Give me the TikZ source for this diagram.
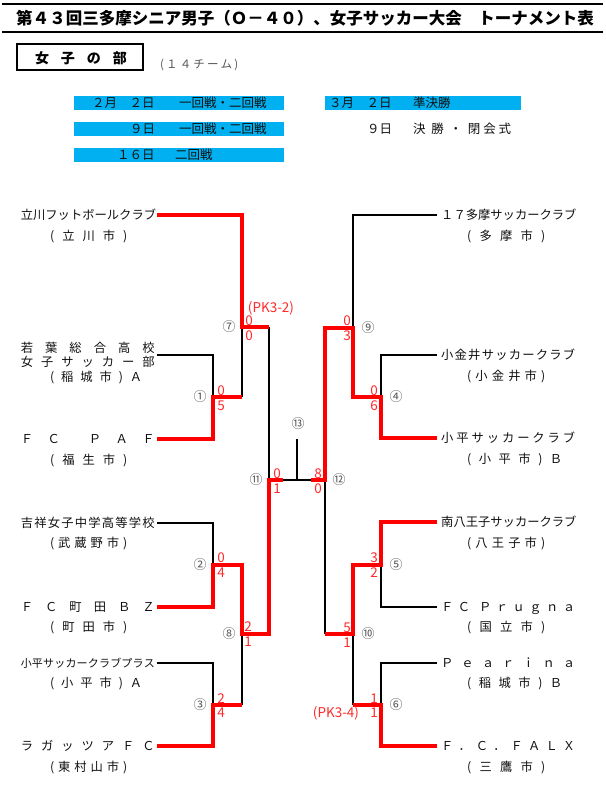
\documentclass[tikz,border=0pt]{standalone}
\usepackage{fontspec}
\setmainfont{Noto Sans CJK JP}
\definecolor{barblue}{HTML}{00B0F0}
\definecolor{scred}{HTML}{FF2A2A}
\definecolor{numgray}{HTML}{555555}
\definecolor{ink}{HTML}{111111}
\def\sprx#1#2{#1\ifx\relax#2\else\hfill\expandafter\sprx\expandafter#2\fi}
\newcommand\spr[2]{\makebox[#1][s]{\sprx#2\relax}}
\newcommand\gap{\hbox{}}
\begin{document}
\begin{tikzpicture}[x=1pt,y=-1pt,
  win/.style={draw=red,line width=3.8pt},
  lose/.style={draw=black,line width=1.6pt},
  tl/.style={inner sep=0pt,anchor=east,text=ink,font=\fontsize{12.3}{12.3}\selectfont,text height=9.3pt,text depth=0pt},
  tr/.style={tl,anchor=west},
  cty/.style={tl,anchor=west},
  sc/.style={inner sep=0pt,text=scred,font=\fontsize{13.5}{13.5}\selectfont,text height=10.2pt,text depth=0pt},
  cn/.style={inner sep=0pt,text=numgray,font=\fontsize{13}{13}\selectfont,text height=9.9pt,text depth=0pt},
  hd/.style={inner sep=0pt,anchor=west,text=ink,font=\fontsize{12.5}{12.5}\selectfont,text height=9.5pt,text depth=0pt},
]
\useasboundingbox (0,0) rectangle (605,794);
\fill[white] (0,0) rectangle (605,794);

% ---------- header ----------
\draw[line width=2.6pt] (2,4) -- (603,4);
\draw[line width=2.6pt] (2,32) -- (603,32);
\node[inner sep=0pt,text=black,font=\bfseries\fontsize{16.5}{16.5}\selectfont,text height=12.5pt,text depth=0pt] (title) at (305,18)
  {第４３回三多摩シニア男子（Ｏ－４０）、女子サッカー大会　トーナメント表};
\draw[line width=1.2pt] (17,44) rectangle (143,70);
\node[inner sep=0pt,font=\bfseries\fontsize{14}{14}\selectfont,text height=10.6pt,text depth=0pt] (div) at (81,58)
  {\spr{92pt}{女子の部}};
\node[inner sep=0pt,anchor=west,text=numgray,font=\fontsize{11.5}{11.5}\selectfont,text height=8.7pt,text depth=0pt] (nteams) at (160,64)
  {\spr{78pt}{(１４チーム)}};

\fill[barblue] (74,96) rectangle (284,110);
\fill[barblue] (74,122) rectangle (284,136);
\fill[barblue] (74,148) rectangle (284,162);
\fill[barblue] (325,96) rectangle (521,110);
\node[hd] (d1) at (92,103) {２月　２日};
\node[hd] (r1) at (179,103) {一回戦・二回戦};
\node[hd] (d2) at (130,129) {９日};
\node[hd] (r2) at (179,129) {一回戦・二回戦};
\node[hd] (d3) at (117,155) {１６日};
\node[hd] (r3) at (175,155) {二回戦};
\node[hd] (d4) at (329,103) {３月　２日};
\node[hd] (r4) at (413,103) {準決勝};
\node[hd] (d5) at (367,129) {９日};
\node[hd] (r5) at (413,129) {\spr{98pt}{決\gap 勝\gap ・\gap 閉会式}};

% ---------- team names, left ----------
\node[tl] (t1) at (155,215) {\spr{134pt}{立川フットボールクラブ}};
\node[cty] (c1) at (50,236) {\spr{77pt}{(立川市)}};
\node[tl] (t2a) at (155,348) {\spr{134pt}{若葉総合高校}};
\node[tl] (t2b) at (155,362) {\spr{134pt}{女子サッカー部}};
\node[cty] (c2) at (50,377) {\spr{92pt}{(稲城市)Ａ}};
\node[tl] (t3) at (155,439) {\spr{134pt}{ＦＣ\gap ＰＡＦ}};
\node[cty] (c3) at (50,460) {\spr{77pt}{(福生市)}};
\node[tl] (t4) at (155,523) {\spr{134pt}{吉祥女子中学高等学校}};
\node[cty] (c4) at (50,543) {\spr{77pt}{(武蔵野市)}};
\node[tl] (t5) at (155,607) {\spr{134pt}{ＦＣ町田ＢＺ}};
\node[cty] (c5) at (50,627) {\spr{77pt}{(町田市)}};
\node[tl,font=\fontsize{11}{11}\selectfont,text height=8.4pt] (t6) at (155,663) {\spr{134pt}{小平サッカークラブプラス}};
\node[cty] (c6) at (50,683) {\spr{92pt}{(小平市)Ａ}};
\node[tl] (t7) at (155,746) {\spr{134pt}{ラガッツアＦＣ}};
\node[cty] (c7) at (50,767) {\spr{77pt}{(東村山市)}};

% ---------- team names, right ----------
\node[tr] (t8) at (441,215) {\spr{134pt}{１７多摩サッカークラブ}};
\node[cty] (c8) at (467,236) {\spr{78pt}{(多摩市)}};
\node[tr] (t9) at (441,355) {\spr{134pt}{小金井サッカークラブ}};
\node[cty] (c9) at (467,376) {\spr{78pt}{(小金井市)}};
\node[tr] (t10) at (441,438) {\spr{134pt}{小平サッカークラブ}};
\node[cty] (c10) at (467,459) {\spr{95pt}{(小平市)Ｂ}};
\node[tr] (t11) at (441,522) {\spr{134pt}{南八王子サッカークラブ}};
\node[cty] (c11) at (467,543) {\spr{78pt}{(八王子市)}};
\node[tr] (t12) at (441,607) {\spr{134pt}{ＦＣ\gap Ｐｒｕｇｎａ}};
\node[cty] (c12) at (467,627) {\spr{78pt}{(国立市)}};
\node[tr] (t13) at (441,663) {\spr{134pt}{Ｐｅａｒｉｎａ}};
\node[cty] (c13) at (467,683) {\spr{95pt}{(稲城市)Ｂ}};
\node[tr] (t14) at (441,746) {\spr{134pt}{Ｆ．Ｃ．ＦＡＬＸ}};
\node[cty] (c14) at (467,767) {\spr{78pt}{(三鷹市)}};

% ---------- bracket coordinates ----------
\coordinate (L1) at (157,215);
\coordinate (L2) at (157,355);
\coordinate (L3) at (157,439);
\coordinate (L4) at (157,523);
\coordinate (L5) at (157,607);
\coordinate (L6) at (157,663);
\coordinate (L7) at (157,746);
\coordinate (R1) at (437,215);
\coordinate (R2) at (437,355);
\coordinate (R3) at (437,438);
\coordinate (R4) at (437,522);
\coordinate (R5) at (437,607);
\coordinate (R6) at (437,663);
\coordinate (R7) at (437,746);
\coordinate (m1) at (213,397);
\coordinate (m2) at (213,565);
\coordinate (m3) at (213,705);
\coordinate (m7) at (242,327);
\coordinate (m8) at (242,634);
\coordinate (m11) at (269,480);
\coordinate (m13) at (297,480);
\coordinate (m13t) at (297,439);
\coordinate (m12) at (325,480);
\coordinate (w11) at (283,480);
\coordinate (w12) at (311,480);
\coordinate (m4) at (381,397);
\coordinate (m5) at (381,565);
\coordinate (m6) at (381,705);
\coordinate (m9) at (353,328);
\coordinate (m10) at (353,634);

% ---------- losing (black) lines ----------
\draw[lose] (L2) -| (m1);
\draw[lose] (m1 -| m7) -- (m7);
\draw[lose] (m7 -| m11) -- (m11);
\draw[lose] (m11) -- (m12);
\draw[lose] (m13t) -- (m13);
\draw[lose] (L4) -| (m2);
\draw[lose] (L6) -| (m3);
\draw[lose] (m3 -| m8) -- (m8);
\draw[lose] (R1) -| (m9);
\draw[lose] (R2) -| (m4);
\draw[lose] (R5) -| (m5);
\draw[lose] (R6) -| (m6);
\draw[lose] (m6 -| m10) -- (m10);
\draw[lose] (m10 -| m12) -- (m12);

% ---------- winning (red) lines ----------
\draw[win] (L1) -| (m7) -- (m7 -| m11);
\draw[win] (L3) -| (m1) -- (m1 -| m7);
\draw[win] (L5) -| (m2) -- (m2 -| m8) -- (m8) -- (m8 -| m11) -- (m11) -- (w11);
\draw[win] (L7) -| (m3) -- (m3 -| m8);
\draw[win] (R3) -| (m4) -- (m4 -| m9) -- (m9) -- (m9 -| m12) -- (m12) -- (w12);
\draw[win] (R4) -| (m5) -- (m5 -| m10) -- (m10) -- (m10 -| m12);
\draw[win] (R7) -| (m6) -- (m6 -| m10);

% ---------- match numbers ----------
\node[cn] (n1) at (200,397) {①};
\node[cn] (n2) at (200,565) {②};
\node[cn] (n3) at (200,705) {③};
\node[cn] (n7) at (229,327) {⑦};
\node[cn] (n8) at (229,634) {⑧};
\node[cn] (n11) at (256,480) {⑪};
\node[cn] (n13) at (298,424) {⑬};
\node[cn] (n12) at (339,480) {⑫};
\node[cn] (n9) at (368,328) {⑨};
\node[cn] (n10) at (368,634) {⑩};
\node[cn] (n4) at (396,397) {④};
\node[cn] (n5) at (396,565) {⑤};
\node[cn] (n6) at (396,705) {⑥};

% ---------- scores ----------
\node[sc] (pk1) at (271,307) {(PK3-2)};
\node[sc] (s7a) at (249,320) {0};
\node[sc] (s7b) at (249,335) {0};
\node[sc] (s1a) at (221,390) {0};
\node[sc] (s1b) at (221,405) {5};
\node[sc] (s11a) at (277,473) {0};
\node[sc] (s11b) at (277,488) {1};
\node[sc] (s12a) at (318,473) {8};
\node[sc] (s12b) at (318,488) {0};
\node[sc] (s9a) at (347,320) {0};
\node[sc] (s9b) at (347,335) {3};
\node[sc] (s4a) at (374,390) {0};
\node[sc] (s4b) at (374,405) {6};
\node[sc] (s2a) at (221,557) {0};
\node[sc] (s2b) at (221,572) {4};
\node[sc] (s8a) at (248,626) {2};
\node[sc] (s8b) at (248,641) {1};
\node[sc] (s3a) at (221,698) {2};
\node[sc] (s3b) at (221,712) {4};
\node[sc] (s5a) at (374,557) {3};
\node[sc] (s5b) at (374,572) {2};
\node[sc] (s10a) at (347,627) {5};
\node[sc] (s10b) at (347,642) {1};
\node[sc] (s6a) at (374,698) {1};
\node[sc] (s6b) at (374,712) {1};
\node[sc] (pk2) at (336,712) {(PK3-4)};
\end{tikzpicture}
\end{document}
